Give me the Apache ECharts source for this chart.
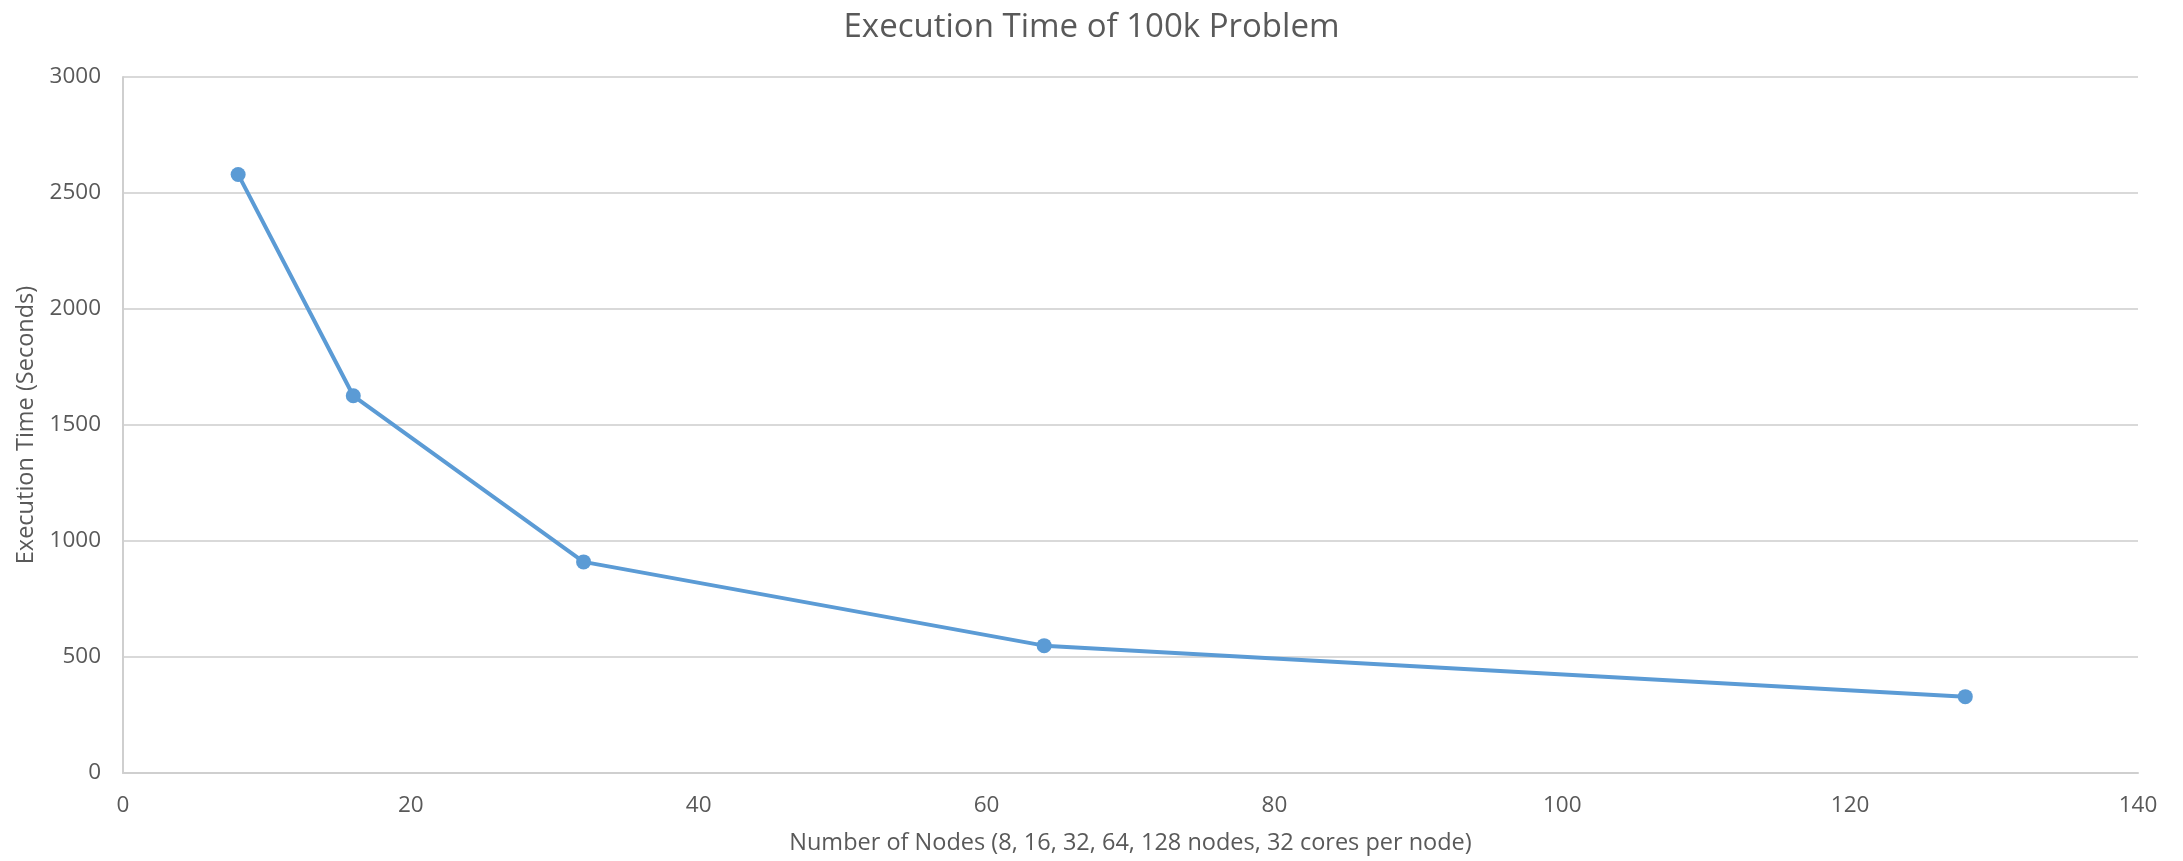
<!DOCTYPE html>
<html>
<head>
<meta charset="utf-8">
<script src="https://cdn.jsdelivr.net/npm/echarts@6/dist/echarts.min.js"></script>
<style>
  html, body { margin: 0; padding: 0; background: #ffffff; }
  #chart { width: 2183px; height: 861px; }
</style>
</head>
<body>
<div id="chart"></div>
<script>
// Number of nodes used in each run
const nodes = [8, 16, 32, 64, 128];
// Wall-clock execution time in seconds for each run
const seconds = [2580, 1626, 910, 549, 329];

const chartTitle = 'Execution Time of 100k Problem';
const xAxisName = 'Number of Nodes (8, 16, 32, 64, 128 nodes, 32 cores per node)';
const yAxisName = 'Execution Time (Seconds)';

const FONT = '"Open Sans", "Noto Sans", sans-serif';
const TEXT = '#595959';

const chart = echarts.init(document.getElementById('chart'), null, { renderer: 'canvas' });

chart.setOption({
  backgroundColor: '#ffffff',
  animation: false,
  title: {
    text: chartTitle,
    left: 'center',
    top: 6,
    textStyle: { fontFamily: FONT, fontSize: 33, fontWeight: 'normal', color: TEXT }
  },
  grid: { left: 123, right: 45, top: 77, bottom: 88, containLabel: false },
  xAxis: {
    type: 'value',
    min: 0,
    max: 140,
    interval: 20,
    name: xAxisName,
    nameLocation: 'middle',
    nameGap: 58,
    nameTextStyle: { fontFamily: FONT, fontSize: 23.5, color: TEXT },
    axisLine: { show: true, lineStyle: { color: '#cfcfcf', width: 2 } },
    axisTick: { show: false },
    axisLabel: { fontFamily: FONT, fontSize: 22.5, color: TEXT, margin: 21 },
    splitLine: { show: false }
  },
  yAxis: {
    type: 'value',
    min: 0,
    max: 3000,
    interval: 500,
    name: yAxisName,
    nameLocation: 'middle',
    nameGap: 78,
    nameTextStyle: { fontFamily: FONT, fontSize: 23.5, color: TEXT },
    axisLine: { show: true, lineStyle: { color: '#cfcfcf', width: 2 } },
    axisTick: { show: false },
    axisLabel: { fontFamily: FONT, fontSize: 22.5, color: TEXT, margin: 22, formatter: v => String(v) },
    splitLine: { show: true, lineStyle: { color: '#d9d9d9', width: 2 } }
  },
  series: [{
    type: 'line',
    data: nodes.map((n, i) => [n, seconds[i]]),
    symbol: 'circle',
    symbolSize: 15,
    lineStyle: { color: '#5b9bd5', width: 4 },
    itemStyle: { color: '#5b9bd5' }
  }]
});
</script>
</body>
</html>
